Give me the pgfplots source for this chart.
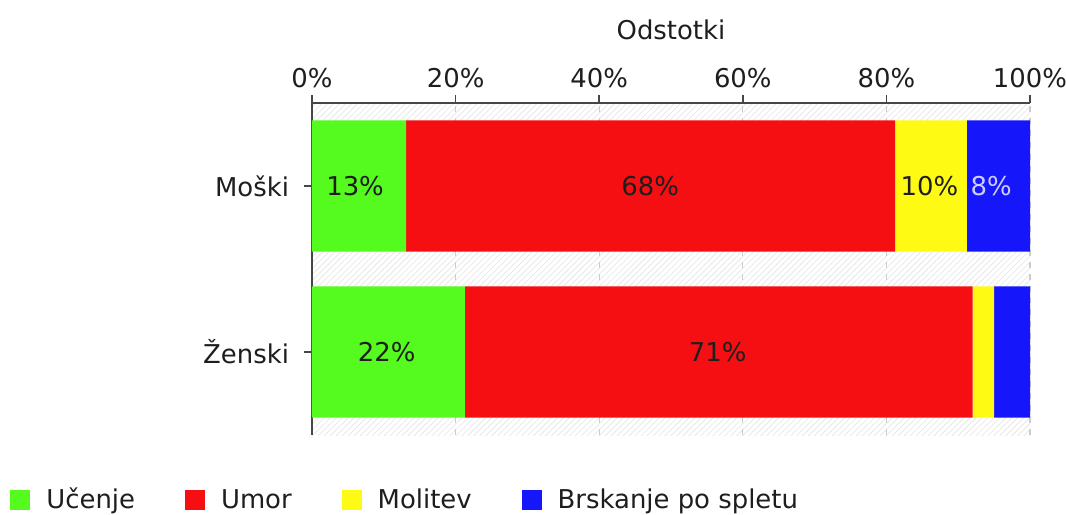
\documentclass[border=0pt]{standalone}
\usepackage{fontspec}
\setmainfont{DejaVu Sans}
\usepackage{pgfplots}
\pgfplotsset{compat=1.18}
\usetikzlibrary{patterns}

\definecolor{cgreen}{RGB}{85,250,30}
\definecolor{cred}{RGB}{245,14,18}
\definecolor{cyellow}{RGB}{255,250,20}
\definecolor{cblue}{RGB}{22,22,250}
\definecolor{caxis}{RGB}{70,70,70}
\definecolor{ctext}{RGB}{30,30,30}
\definecolor{clight}{RGB}{205,205,255}

\newcommand{\chartfont}{\fontsize{13}{15}\selectfont}
\pgfdeclareplotmark{blank}{}

\begin{document}
\begin{tikzpicture}
\path[use as bounding box] (-156bp,-40bp) rectangle (377bp,217.5bp);
\begin{axis}[
    width=359bp, height=166bp, scale only axis,
    xbar stacked, bar width=0.79,
    xmin=0, xmax=100, ymin=-0.5, ymax=1.5,
    axis x line*=top, axis y line*=left,
    axis line style={caxis, line width=1bp},
    axis background/.style={pattern=north east lines, pattern color=gray!18},
    xtick={0,20,...,100},
    xticklabel={\pgfmathprintnumber{\tick}\%},
    ytick={0,1}, yticklabels={Ženski,Moški},
    /pgf/number format/assume math mode=true,
    tick align=outside, major tick length=4bp,
    tick style={caxis, line width=0.8bp},
    xmajorgrids, grid style={dashed, gray!40, line width=0.6bp},
    tick label style={font=\chartfont, text=ctext},
    yticklabel style={xshift=-4bp},
    xlabel={Odstotki},
    xlabel style={font=\chartfont, text=ctext, at={(axis description cs:0.5,1)}, anchor=center, yshift=36.5bp},
    every axis plot/.append style={draw=none,
        legend image code/.code={\fill[##1, draw=none] (0bp,-5bp) rectangle (10bp,5bp);}},
    legend columns=4,
    legend style={draw=none, fill=none, inner sep=0pt, font=\chartfont, text=ctext,
        at={(-0.4206,-0.196)}, anchor=west,
        /tikz/every even column/.append style={column sep=23bp},
        /tikz/every odd column/.append style={column sep=6bp}},
]
\addplot[fill=cgreen]  coordinates {(13.1,1) (21.3,0)};
\addplot[fill=cred]    coordinates {(68.1,1) (70.7,0)};
\addplot[fill=cyellow] coordinates {(10.0,1) (3.0,0)};
\addplot[fill=cblue]   coordinates {(8.8,1) (5.0,0)};
\legend{Učenje, Umor, Molitev, Brskanje po spletu}
\end{axis}
% value labels, centred in each segment
\begin{axis}[
    width=359bp, height=166bp, scale only axis,
    xmin=0, xmax=100, ymin=-0.5, ymax=1.5,
    hide axis,
    every node near coord/.append style={font=\chartfont, anchor=center},
]
\addplot[only marks, mark=blank,
    nodes near coords, point meta=explicit symbolic,
    every node near coord/.append style={text=ctext}]
    coordinates {(6.0,1) [13\%] (47.1,1) [68\%] (86.0,1) [10\%] (10.4,0) [22\%] (56.5,0) [71\%]};
\addplot[only marks, mark=blank,
    nodes near coords, point meta=explicit symbolic,
    every node near coord/.append style={text=clight}]
    coordinates {(94.6,1) [8\%]};
\end{axis}
\end{tikzpicture}
\end{document}
